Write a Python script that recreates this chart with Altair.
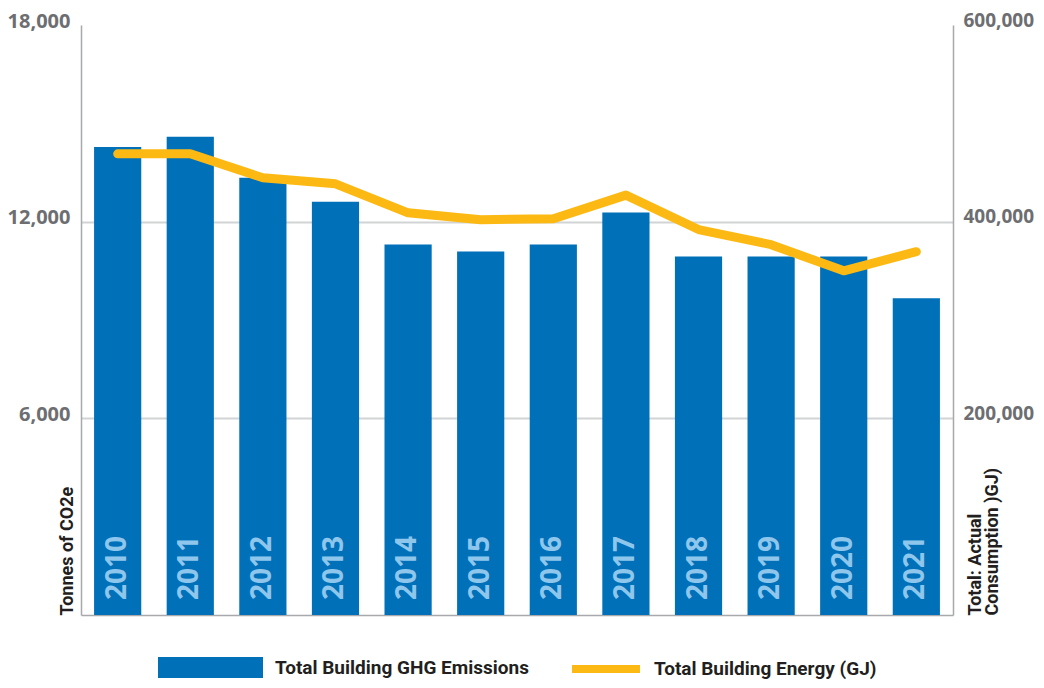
import altair as alt
import pandas as pd

years = [str(y) for y in range(2010, 2022)]
emissions = [14280, 14590, 13340, 12610, 11300, 11090, 11300, 12280, 10940, 10940, 10940, 9660]
energy = [469000, 469000, 444600, 438500, 409000, 402000, 403000, 427000, 392000, 376600, 350000, 369500]
left_ticks = [6000, 12000, 18000]
right_ticks = [200000, 400000, 600000]
bar_label = "Total Building GHG Emissions"
line_label = "Total Building Energy (GJ)"
left_title = "Tonnes of CO2e"
right_title = ["Total: Actual", "Consumption )GJ)"]

BLUE = "#0070b9"
GOLD = "#fdb913"
AXIS_GREY = "#a7a9ac"
LABEL_GREY = "#6d6e71"
TITLE_BLACK = "#231f20"

df = pd.DataFrame({
    "year": years,
    "emissions": emissions,
    "energy": energy,
    "s1": bar_label,
    "s2": line_label,
})

x_enc = alt.X(
    "year:N",
    sort=years,
    scale=alt.Scale(paddingInner=0.35, paddingOuter=0.18),
    axis=alt.Axis(title=None, labels=False, ticks=False, grid=False,
                  domainColor=AXIS_GREY, domainWidth=1.5),
)

left_scale = alt.Scale(domain=[0, 18000], nice=False, zero=True)
left_axis = alt.Axis(
    title=left_title,
    values=left_ticks,
    format=",.0f",
    ticks=False,
    labelFont="Open Sans",
    labelFontSize=20,
    labelFontWeight="bold",
    labelColor=LABEL_GREY,
    labelPadding=11,
    labelOffset=-4,
    labelFlush=False,
    domainColor=AXIS_GREY,
    domainWidth=1.5,
    grid=True,
    gridColor={"condition": {"test": "datum.value >= 18000", "value": "transparent"}, "value": "#d1d3d4"},
    gridWidth=2,
    titleFont="Roboto",
    titleFontSize=18,
    titleFontWeight="bold",
    titleColor=TITLE_BLACK,
    titleAngle=270,
    titleAlign="left",
    titleBaseline="alphabetic",
    titleX=-9,
    titleY=590,
)

right_axis = alt.Axis(
    orient="right",
    title=right_title,
    values=right_ticks,
    format=",.0f",
    ticks=False,
    grid=False,
    labelFont="Open Sans",
    labelFontSize=19,
    labelFontWeight="bold",
    labelColor=LABEL_GREY,
    labelPadding=10,
    labelOffset=-5,
    labelFlush=False,
    domainColor=AXIS_GREY,
    domainWidth=1.5,
    titleFont="Roboto",
    titleFontSize=18,
    titleFontWeight="bold",
    titleColor=TITLE_BLACK,
    titleAngle=270,
    titleAlign="left",
    titleBaseline="alphabetic",
    titleLineHeight=17,
    titleX=27,
    titleY=590,
)

bars = alt.Chart(df).mark_bar().encode(
    x=x_enc,
    y=alt.Y("emissions:Q", scale=left_scale, axis=left_axis),
    fill=alt.Fill(
        "s1:N",
        scale=alt.Scale(domain=[bar_label], range=[BLUE]),
        legend=alt.Legend(
            title=None, orient="none", legendX=77, legendY=590, padding=0,
            symbolType="M-1,-0.2H1V0.2H-1Z", symbolSize=11025,
            symbolStrokeWidth=0, symbolOpacity=1,
            labelFont="Roboto", labelFontSize=19, labelFontWeight="bold",
            labelColor=TITLE_BLACK, labelOffset=12, labelLimit=0,
        ),
    ),
)

year_text = alt.Chart(df).mark_text(
    angle=270, align="left", baseline="middle", dx=15,
    font="Open Sans", fontSize=28, fontWeight="bold", color="#8ec6ec",
).encode(
    x=x_enc,
    y=alt.YDatum(0, scale=left_scale, axis=left_axis),
    text="year:N",
)

line = alt.Chart(df).mark_line(
    strokeWidth=9, strokeCap="round", strokeJoin="round",
).encode(
    x=x_enc,
    y=alt.Y("energy:Q", scale=alt.Scale(domain=[0, 600000], nice=False, zero=True), axis=right_axis),
    stroke=alt.Stroke(
        "s2:N",
        scale=alt.Scale(domain=[line_label], range=[GOLD]),
        legend=alt.Legend(
            title=None, orient="none", legendX=487, legendY=606, padding=0,
            symbolType="stroke", symbolSize=4624, symbolStrokeWidth=8,
            labelFont="Roboto", labelFontSize=19, labelFontWeight="bold",
            labelColor=TITLE_BLACK, labelOffset=10, labelLimit=0,
        ),
    ),
)

chart = alt.layer(
    alt.layer(bars, year_text),
    line,
).resolve_scale(y="independent", fill="independent", stroke="independent").properties(
    width=872,
    height=590,
    padding={"left": 73, "top": 17, "right": 83, "bottom": 65},
    autosize=alt.AutoSizeParams(type="none"),
    background="white",
).configure_view(stroke=None)

chart.save("out.html", embed_options={"renderer": "svg", "actions": False})
